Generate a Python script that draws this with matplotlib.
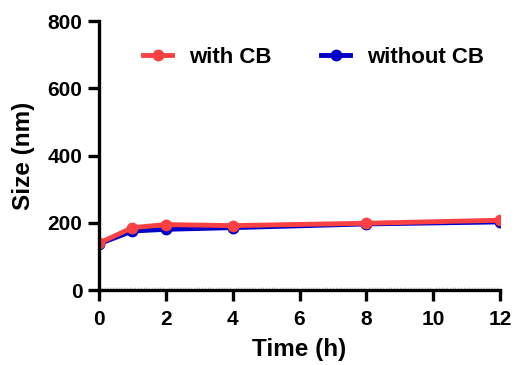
import matplotlib
matplotlib.use("Agg")
import matplotlib.pyplot as plt
from matplotlib.ticker import MultipleLocator

plt.rcParams['font.family'] = ['Liberation Sans', 'DejaVu Sans']
plt.rcParams['font.weight'] = 'bold'

time_h = [0, 1, 2, 4, 8, 12]
with_cb = [140, 186, 195, 192, 199, 208]
without_cb = [138, 176, 181, 186, 197, 203]
x_ticks = [0, 2, 4, 6, 8, 10, 12]
y_ticks = [0, 200, 400, 600, 800]

fig = plt.figure(figsize=[5.16, 3.65], dpi=100)
ax = fig.add_axes([0.192, 0.205, 0.777, 0.737])

l2, = ax.plot(time_h, without_cb, color='#0000c8', lw=3.5, marker='o', ms=7.5, label='without CB')
l1, = ax.plot(time_h, with_cb, color='#f94144', lw=3.5, marker='o', ms=7.5, label='with CB')

ax.set_xlim(0, 12)
ax.set_ylim(0, 800)
ax.set_xticks(x_ticks, [str(t) for t in x_ticks], fontsize=15, fontweight='bold')
ax.set_yticks(y_ticks, [str(t) for t in y_ticks], fontsize=15, fontweight='bold')
ax.xaxis.set_minor_locator(MultipleLocator(1 / 12))

for s in ['top', 'right']:
    ax.spines[s].set_visible(False)
for s in ['left', 'bottom']:
    ax.spines[s].set_linewidth(2.4)
ax.tick_params(which='major', length=8, width=2.4)
ax.tick_params(axis='x', which='major', pad=6)
ax.tick_params(axis='y', which='major', pad=4)
ax.tick_params(axis='x', which='minor', direction='in', length=2, width=0.5, color='#aaaaaa')

ax.set_xlabel('Time (h)', fontsize=17.5, fontweight='bold', labelpad=7)
ax.set_ylabel('Size (nm)', fontsize=17.5, fontweight='bold', labelpad=9)

ax.legend(handles=[l1, l2], ncol=2, frameon=False, loc='center left',
          bbox_to_anchor=(0.11, 0.866), borderpad=0, borderaxespad=0,
          handlelength=1.3, columnspacing=2.25, handletextpad=0.75,
          prop={'weight': 'bold', 'size': 16})

fig.savefig('out.png', dpi=100)
